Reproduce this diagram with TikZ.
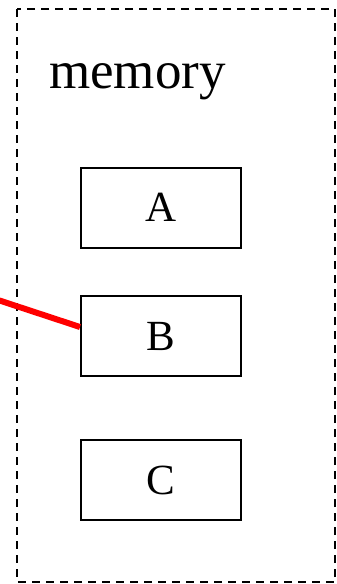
\documentclass[tikz,border=0pt]{standalone}
\usepackage{fontspec}
\setmainfont{Liberation Serif}
\begin{document}
\begin{tikzpicture}[x=1pt,y=-1pt,
  membox/.style={draw,line width=2pt,minimum width=160pt,minimum height=80pt,inner sep=0pt,font=\fontsize{43}{43}\selectfont},
  memframe/.style={draw,line width=1.8pt,dash pattern=on 8pt off 6pt},
  redline/.style={draw=red,line width=6pt}]
\useasboundingbox (0,0) rectangle (337,584);
\draw[memframe] (17,9) rectangle (335,582);
\node[anchor=base west,inner sep=0pt,font=\fontsize{53}{53}\selectfont] (title) at (49,88) {memory};
\node[membox] (A) at (161,207.5) {A};
\node[membox] (B) at (161,336) {B};
\node[membox] (C) at (161,480) {C};
\coordinate (src) at (-2,300);
\draw[redline] (src) -- ([yshift=9pt]B.west);
\end{tikzpicture}
\end{document}
